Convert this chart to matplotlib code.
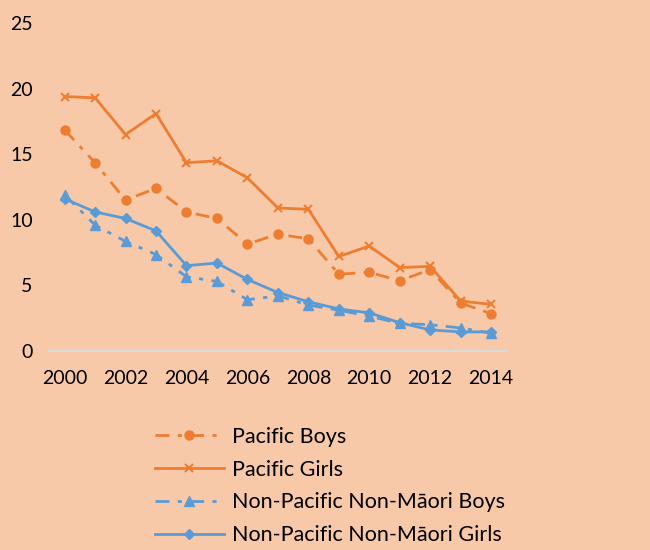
import numpy as np
import matplotlib.pyplot as plt

years = list(range(2000, 2015))
pacific_boys = [16.85, 14.35, 11.5, 12.4, 10.6, 10.1, 8.15, 8.9, 8.55, 5.85, 6.0, 5.35, 6.2, 3.65, 2.85]
pacific_girls = [19.4, 19.3, 16.5, 18.1, 14.35, 14.5, 13.2, 10.9, 10.8, 7.2, 8.0, 6.35, 6.45, 3.8, 3.55]
npnm_boys = [11.9, 9.6, 8.35, 7.35, 5.65, 5.3, 3.9, 4.2, 3.5, 3.1, 2.65, 2.1, 2.0, 1.75, 1.35]
npnm_girls = [11.6, 10.6, 10.1, 9.15, 6.5, 6.7, 5.45, 4.45, 3.75, 3.2, 2.9, 2.15, 1.6, 1.45, 1.45]

orange = '#ED7D31'
blue = '#5B9BD5'
bg = '#F7C9A9'

plt.rcParams['font.family'] = ['Lato', 'DejaVu Sans']

fig = plt.figure(figsize=(6.5, 5.5), dpi=100, facecolor=bg)
ax = fig.add_axes([0.076, 0.362, 0.703, 0.596])
ax.set_facecolor(bg)

dashdot = (0, (5, 3, 1.5, 3))
ax.plot(years, pacific_boys, color=orange, lw=2, ls=dashdot, marker='o', ms=6.5,
        label='Pacific Boys')
ax.plot(years, pacific_girls, color=orange, lw=2, marker='x', ms=6, mew=1.5,
        label='Pacific Girls')
ax.plot(years, npnm_boys, color=blue, lw=2, ls=dashdot, marker='^', ms=6.5,
        label='Non-Pacific Non-Māori Boys')
ax.plot(years, npnm_girls, color=blue, lw=2, marker='D', ms=5,
        label='Non-Pacific Non-Māori Girls')

ax.set_xlim(1999.5, 2014.5)
ax.set_ylim(0, 25)
ax.set_xticks(range(2000, 2015, 2))
ax.set_yticks(range(0, 26, 5))
for s in ['top', 'right', 'left']:
    ax.spines[s].set_visible(False)
ax.spines['bottom'].set_color('#D9D9D9')
ax.spines['bottom'].set_linewidth(1.5)
ax.tick_params(length=0, labelsize=14, colors='black')
ax.tick_params(axis='x', pad=14)
ax.tick_params(axis='y', pad=12)

handles, labels = ax.get_legend_handles_labels()
fig.legend(handles, labels, loc='upper left', bbox_to_anchor=(0.225, 0.24),
           frameon=False, fontsize=15.5, handlelength=3.2, handletextpad=0.4,
           labelspacing=0.6, borderaxespad=0)

fig.savefig('out.png', dpi=100, facecolor=bg)
